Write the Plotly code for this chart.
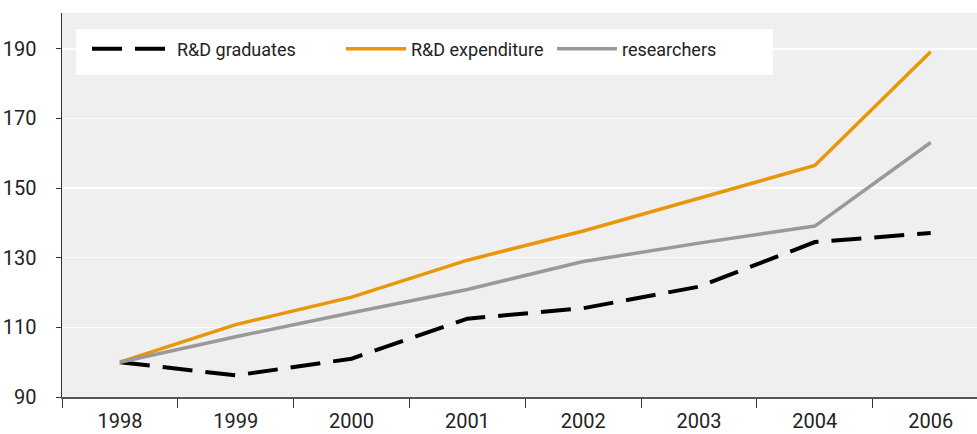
import plotly.graph_objects as go

years = ["1998", "1999", "2000", "2001", "2002", "2003", "2004", "2006"]
rd_graduates = [100, 96.2, 101.0, 112.5, 115.5, 121.7, 134.5, 137.1]
rd_expenditure = [100, 110.8, 118.7, 129.3, 137.7, 147.0, 156.5, 189.2]
researchers = [100, 107.3, 114.2, 120.9, 128.9, 134.2, 139.1, 163.1]
y_ticks = [90, 110, 130, 150, 170, 190]

FONT = "Roboto"
W, H = 977, 434
ML, MR, MT, MB = 62, 0, 13, 37
PW, PH = W - ML - MR, H - MT - MB


def px_x(x):
    return (x - ML) / PW


def px_y(y):
    return (H - MB - y) / PH


fig = go.Figure()
fig.add_trace(go.Scatter(x=years, y=rd_graduates, mode="lines", name="R&D graduates",
                         legend="legend",
                         line=dict(color="#000000", width=4, dash="30px,13px")))
fig.add_trace(go.Scatter(x=years, y=rd_expenditure, mode="lines", name="R&D expenditure",
                         legend="legend2",
                         line=dict(color="#E8960A", width=3.5)))
fig.add_trace(go.Scatter(x=years, y=researchers, mode="lines", name="researchers",
                         legend="legend3",
                         line=dict(color="#999999", width=3.5)))

leg_common = dict(orientation="h", xanchor="left", yanchor="middle",
                  bgcolor="rgba(0,0,0,0)", font=dict(size=18, color="#222222", family=FONT))

fig.update_layout(
    width=W, height=H,
    margin=dict(l=ML, r=MR, t=MT, b=MB),
    paper_bgcolor="#ffffff",
    plot_bgcolor="#efefef",
    font=dict(family=FONT, size=20, color="#222222"),
    showlegend=True,
    legend=dict(x=px_x(87), y=px_y(49), itemwidth=80, **leg_common),
    legend2=dict(x=px_x(341), y=px_y(49), itemwidth=60, **leg_common),
    legend3=dict(x=px_x(552), y=px_y(49), itemwidth=60, **leg_common),
    shapes=[dict(type="rect", xref="paper", yref="paper", layer="between",
                 x0=px_x(76), x1=px_x(773), y0=px_y(75), y1=px_y(29),
                 fillcolor="#ffffff", line=dict(width=0))],
    xaxis=dict(type="category", range=[-0.5, 7.4], tickson="boundaries",
               ticks="outside", ticklen=9, tickcolor="#333333", tickwidth=1,
               showline=True, linecolor="#555555", linewidth=1.5,
               showgrid=False, zeroline=False, automargin=False,
               ticklabelstandoff=5),
    yaxis=dict(range=[90, 200.3], tickvals=y_ticks, ticks="outside", ticklen=5,
               tickcolor="#333333", showline=True, linecolor="#333333", linewidth=1.5,
               showgrid=True, gridcolor="#ffffff", gridwidth=1.5, zeroline=False,
               ticklabelstandoff=15, automargin=False),
)

fig.write_html("out.html",
               config={"displayModeBar": False, "staticPlot": True},
               post_script="document.body.style.margin='0';document.body.style.overflow='hidden';")
